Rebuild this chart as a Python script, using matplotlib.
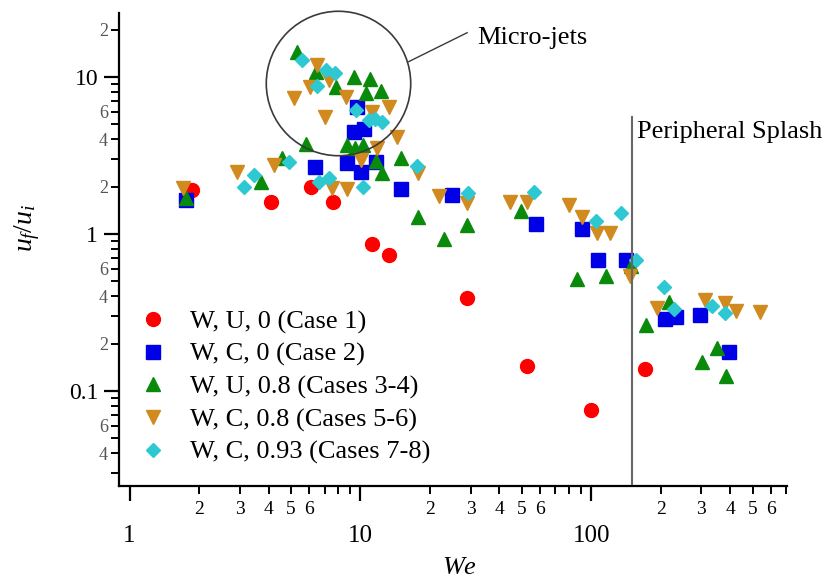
import matplotlib
matplotlib.use("Agg")
import matplotlib.pyplot as plt
from matplotlib.ticker import FixedLocator, FixedFormatter

plt.rcParams['font.family'] = ['Liberation Serif', 'DejaVu Serif']
plt.rcParams['mathtext.fontset'] = 'custom'
plt.rcParams['mathtext.rm'] = 'Liberation Serif'
plt.rcParams['mathtext.it'] = 'Liberation Serif:italic'

# Case 1: W, U, 0
we_c1 = [1.86, 4.1, 6.1, 7.6, 11.2, 13.3, 29, 52.7, 100, 171]
u_c1 = [1.91, 1.6, 1.99, 1.6, 0.86, 0.735, 0.39, 0.144, 0.0757, 0.138]

# Case 2: W, C, 0
we_c2 = [1.75, 6.35, 8.74, 10.1, 11.7, 15.0, 24.9, 9.66, 9.37, 10.4,
         57.7, 91.4, 107, 142, 209, 234, 297, 397]
u_c2 = [1.65, 2.67, 2.83, 2.48, 2.87, 1.93, 1.77, 6.44, 4.47, 4.67,
        1.16, 1.08, 0.683, 0.683, 0.288, 0.296, 0.305, 0.177]

# Cases 3-4: W, U, 0.8
we_c34 = [1.75, 3.7, 4.56, 5.3, 6.41, 7.83, 9.37, 11.0, 10.6, 12.3,
          5.8, 8.74, 9.5, 10.3, 11.7, 12.4, 15.0, 17.8, 23.0, 29.0,
          49.7, 87, 116, 149, 173, 218, 303, 349, 385]
u_c34 = [1.68, 2.14, 3.05, 14.4, 10.8, 8.64, 10.0, 9.7, 7.9, 8.1,
         3.74, 3.69, 3.53, 3.69, 2.9, 2.45, 3.05, 1.28, 0.93, 1.14,
         1.4, 0.517, 0.54, 0.62, 0.263, 0.369, 0.153, 0.188, 0.125]

# Cases 5-6: W, C, 0.8
we_c56 = [1.71, 2.91, 4.22, 5.15, 6.48, 6.04, 7.0, 8.65, 11.2, 13.3,
          14.4, 10.1, 11.8, 7.5, 8.74, 17.8, 22.0, 29.0, 44.5, 52.7,
          80.3, 91.4, 106, 121, 147, 193, 312, 378, 426, 536, 7.3]
u_c56 = [1.96, 2.48, 2.75, 7.35, 11.9, 8.64, 5.56, 7.46, 5.98, 6.44,
         4.15, 2.96, 3.53, 1.96, 1.93, 2.45, 1.75, 1.57, 1.6, 1.6,
         1.53, 1.28, 1.01, 1.01, 0.54, 0.338, 0.38, 0.364, 0.323, 0.32, 9.5]

# Cases 7-8: W, C, 0.93
we_c78 = [3.12, 3.45, 4.9, 5.57, 7.08, 7.8, 6.5, 9.57, 10.9, 12.4,
          6.6, 7.3, 10.3, 17.6, 29.3, 56.6, 105, 134, 157, 207,
          229, 332, 378, 11.6]
u_c78 = [1.99, 2.38, 2.87, 12.8, 11.1, 10.6, 8.8, 6.16, 5.32, 5.17,
         2.14, 2.27, 1.99, 2.71, 1.82, 1.85, 1.21, 1.36, 0.683, 0.46,
         0.333, 0.348, 0.314, 5.4]

labels = ['W, U, 0 (Case 1)', 'W, C, 0 (Case 2)', 'W, U, 0.8 (Cases 3-4)',
          'W, C, 0.8 (Cases 5-6)', 'W, C, 0.93 (Cases 7-8)']
colors = ['#FF0000', '#0000E6', '#0A8A0A', '#D08A1E', '#2EC8D2']

fig = plt.figure(figsize=(8.32, 5.82), dpi=100)
ax = fig.add_axes([119 / 832, 1 - 486 / 582, (787 - 119) / 832, (486 - 13) / 582])

series = [(we_c1, u_c1, 'o', 10), (we_c2, u_c2, 's', 9.5),
          (we_c34, u_c34, '^', 10), (we_c56, u_c56, 'v', 10),
          (we_c78, u_c78, 'D', 7.5)]
for (we, u, mk, ms), lab, col in zip(series, labels, colors):
    ax.plot(we, u, linestyle='none', marker=mk, ms=ms, color=col,
            mec=col, label=lab)

ax.set_xscale('log')
ax.set_yscale('log')
ax.set_xlim(0.9, 705)
ax.set_ylim(0.0248, 25.5)

# micro-jet region ring and callout
ax.plot([7.99], [9.16], marker='o', ms=104, mfc='none', mec='#3a3a3a',
        mew=1.2, linestyle='none', clip_on=False)
ax.plot([16.2, 29], [12.5, 19.1], color='#3a3a3a', lw=1.0, clip_on=False)
ax.text(32, 17.6, 'Micro-jets', fontsize=19, va='center', ha='left')

# peripheral splash threshold
ax.plot([150, 150], [0.0248, 5.56], color='#666666', lw=1.5)
ax.text(158, 4.45, 'Peripheral Splash', fontsize=19, va='center', ha='left')

# ticks: full decades plus labelled intermediates
xmaj = [1, 10, 100]
xmin = [m * d for d in (1, 10, 100) for m in range(2, 10) if m * d <= 700]
xmin_lab = [str(int(v / 10 ** (len(str(int(v))) - 1))) if str(int(v))[0] in '23456' else ''
            for v in xmin]
ax.xaxis.set_major_locator(FixedLocator(xmaj))
ax.xaxis.set_major_formatter(FixedFormatter(['1', '10', '100']))
ax.xaxis.set_minor_locator(FixedLocator(xmin))
ax.xaxis.set_minor_formatter(FixedFormatter(xmin_lab))

ymaj = [0.1, 1, 10]
ymin = [0.03, 0.04, 0.05, 0.06, 0.07, 0.08, 0.09,
        0.2, 0.3, 0.4, 0.5, 0.6, 0.7, 0.8, 0.9,
        2, 3, 4, 5, 6, 7, 8, 9, 20]
ymin_lab = []
for v in ymin:
    lead = int(round(v / 10 ** int(f'{v:e}'.split('e')[1])))
    ymin_lab.append(str(lead) if lead in (2, 4, 6) else '')
ax.yaxis.set_major_locator(FixedLocator(ymaj))
ax.yaxis.set_major_formatter(FixedFormatter(['0.1', '1', '10']))
ax.yaxis.set_minor_locator(FixedLocator(ymin))
ax.yaxis.set_minor_formatter(FixedFormatter(ymin_lab))

for s in ('top', 'right'):
    ax.spines[s].set_visible(False)
for s in ('left', 'bottom'):
    ax.spines[s].set_linewidth(1.6)

ax.tick_params(axis='x', which='major', length=11, width=1.6, pad=17, labelsize=18)
ax.tick_params(axis='x', which='minor', length=6, width=1.4, pad=5, labelsize=14)
ax.tick_params(axis='y', which='major', length=11, width=1.6, pad=4, labelsize=17)
ax.tick_params(axis='y', which='minor', length=6, width=1.4, pad=2, labelsize=13,
               labelcolor='#555555')

ax.set_xlabel('$We$', fontsize=19)
ax.xaxis.set_label_coords(0.51, -0.150)
ax.set_ylabel('$u_f/u_i$', fontsize=20)
ax.yaxis.set_label_coords(-0.115, 0.545)

ax.legend(loc='upper left', bbox_to_anchor=(140 / 832, 1 - 310 / 582),
          bbox_transform=fig.transFigure, frameon=False, fontsize=19,
          handlelength=1.0, handletextpad=0.9, labelspacing=0.33,
          borderpad=0, borderaxespad=0, numpoints=1)

fig.savefig('out.png', dpi=100)
